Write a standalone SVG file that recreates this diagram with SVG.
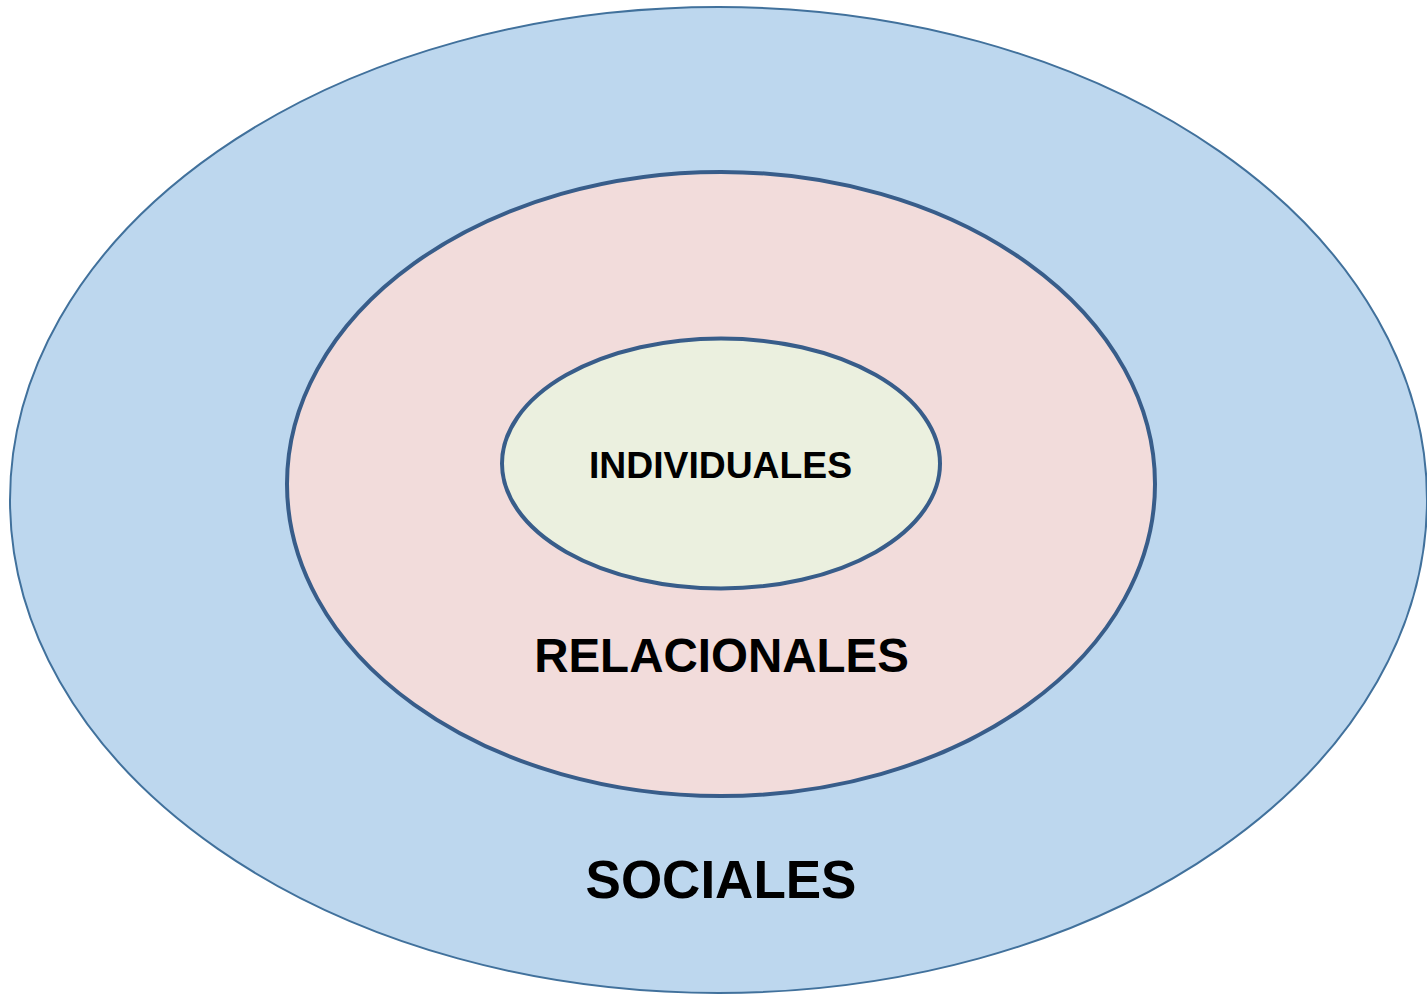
<svg xmlns="http://www.w3.org/2000/svg" width="1427" height="995" viewBox="0 0 1427 995">
<style>
.lbl{font-family:"Liberation Sans",Arial,sans-serif;font-weight:bold;fill:#000;text-anchor:middle}
</style>
<rect width="1427" height="995" fill="#fff"/>
<g id="sociales">
<ellipse cx="718.5" cy="500" rx="708.5" ry="493" fill="#bdd7ee" stroke="#41719c" stroke-width="2"/>
<text class="lbl" x="721" y="898" font-size="53">SOCIALES</text>
</g>
<g id="relacionales">
<ellipse cx="721" cy="484" rx="434" ry="312" fill="#f2dcdb" stroke="#385d8a" stroke-width="4"/>
<text class="lbl" x="721.5" y="672" font-size="47.5">RELACIONALES</text>
</g>
<g id="individuales">
<ellipse cx="721" cy="463.5" rx="219" ry="125" fill="#ebf0df" stroke="#385d8a" stroke-width="4"/>
<text class="lbl" x="720.5" y="478" font-size="37.3">INDIVIDUALES</text>
</g>
<g id="connectors"></g>
</svg>
